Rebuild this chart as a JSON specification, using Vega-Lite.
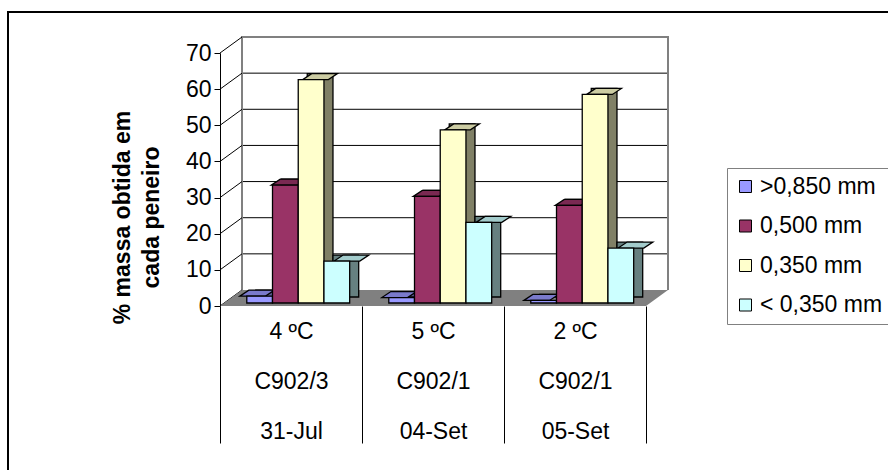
{
  "$schema": "https://vega.github.io/schema/vega-lite/v6.json",
  "width": 426,
  "height": 253,
  "autosize": {"type": "none"},
  "padding": {"left": 220, "top": 53, "right": 242, "bottom": 164},
  "background": "white",
  "config": {
    "view": {"stroke": null},
    "font": "Liberation Sans",
    "point": {"opacity": 1}
  },
  "datasets": {
    "bars": [
      {"cat": "4 ºC|C902/3|31-Jul", "size": ">0,850 mm", "v": 1.9},
      {"cat": "4 ºC|C902/3|31-Jul", "size": "0,500 mm", "v": 32.6},
      {"cat": "4 ºC|C902/3|31-Jul", "size": "0,350 mm", "v": 61.8},
      {"cat": "4 ºC|C902/3|31-Jul", "size": "< 0,350 mm", "v": 11.6},
      {"cat": "5 ºC|C902/1|04-Set", "size": ">0,850 mm", "v": 1.5},
      {"cat": "5 ºC|C902/1|04-Set", "size": "0,500 mm", "v": 29.5},
      {"cat": "5 ºC|C902/1|04-Set", "size": "0,350 mm", "v": 47.9},
      {"cat": "5 ºC|C902/1|04-Set", "size": "< 0,350 mm", "v": 22.3},
      {"cat": "2 ºC|C902/1|05-Set", "size": ">0,850 mm", "v": 0.7},
      {"cat": "2 ºC|C902/1|05-Set", "size": "0,500 mm", "v": 27.0},
      {"cat": "2 ºC|C902/1|05-Set", "size": "0,350 mm", "v": 57.7},
      {"cat": "2 ºC|C902/1|05-Set", "size": "< 0,350 mm", "v": 15.2}
    ],
    "grid": [{"v": 10}, {"v": 20}, {"v": 30}, {"v": 40}, {"v": 50}, {"v": 60}],
    "ticks": [{"v": 0}, {"v": 10}, {"v": 20}, {"v": 30}, {"v": 40}, {"v": 50}, {"v": 60}, {"v": 70}],
    "one": [{"k": 1}]
  },
  "layer": [
    {
      "data": {"name": "bars"},
      "mark": {"type": "bar", "stroke": "black", "strokeWidth": 1.3},
      "encoding": {
        "x": {
          "field": "cat", "type": "nominal",
          "scale": {"domain": ["4 ºC|C902/3|31-Jul", "5 ºC|C902/1|04-Set", "2 ºC|C902/1|05-Set"], "paddingInner": 0, "paddingOuter": 0},
          "axis": {
            "title": null, "labelExpr": "split(datum.label, '|')", "labelAngle": 0,
            "labelFontSize": 23, "labelColor": "black", "labelLineHeight": 50, "labelPadding": -123,
            "tickBand": "extent", "tickSize": 137, "tickColor": "black", "tickWidth": 1,
            "domain": false, "zindex": 1
          }
        },
        "xOffset": {
          "field": "size", "type": "nominal",
          "scale": {"domain": [">0,850 mm", "0,500 mm", "0,350 mm", "< 0,350 mm"], "paddingInner": 0, "paddingOuter": 0.76, "align": 0.685}
        },
        "y": {"field": "v", "type": "quantitative", "scale": {"domain": [0, 70], "nice": false, "zero": true}, "axis": null},
        "fill": {"value": "transparent"},
        "opacity": {"value": 0}
      }
    },
    {
      "data": {"name": "grid"},
      "mark": {"type": "point", "shape": "M-191,-16L235,-16", "size": 4, "filled": false, "stroke": "black", "strokeWidth": 1},
      "encoding": {
        "x": {"datum": "5 ºC|C902/1|04-Set", "type": "nominal"},
        "y": {"field": "v", "type": "quantitative", "scale": {"domain": [0, 70], "nice": false}, "axis": null}
      }
    },
    {
      "data": {"name": "one"},
      "mark": {"type": "point", "shape": "M-191,-16L-191,-269L235,-269L235,-16", "size": 4, "filled": false, "stroke": "#808080", "strokeWidth": 2},
      "encoding": {
        "x": {"datum": "5 ºC|C902/1|04-Set", "type": "nominal"},
        "y": {"datum": 0, "type": "quantitative", "scale": {"domain": [0, 70], "nice": false}, "axis": null}
      }
    },
    {
      "data": {"name": "ticks"},
      "mark": {"type": "point", "shape": "M-213,0L-191,-16", "size": 4, "filled": false, "stroke": "black", "strokeWidth": 1},
      "encoding": {
        "x": {"datum": "5 ºC|C902/1|04-Set", "type": "nominal"},
        "y": {
          "field": "v", "type": "quantitative",
          "scale": {"domain": [0, 70], "nice": false},
          "axis": {
            "values": [0, 10, 20, 30, 40, 50, 60, 70], "grid": false,
            "tickSize": 6, "tickColor": "black", "domainColor": "black", "domainWidth": 1,
            "labelFontSize": 23, "labelColor": "black", "labelPadding": 3,
            "title": ["% massa obtida em", "cada peneiro"],
            "titleFontSize": 23, "titleFontWeight": "bold", "titleColor": "black", "titleLineHeight": 29,
            "titleAngle": -90, "titleX": -98, "titleY": 164, "titleAlign": "center", "titleBaseline": "middle",
            "zindex": 1
          }
        }
      }
    },
    {
      "data": {"name": "one"},
      "mark": {"type": "point", "shape": "M-213,0L213,0L235,-16L-191,-16Z", "size": 4, "filled": true, "fill": "#808080", "strokeWidth": 0},
      "encoding": {
        "x": {"datum": "5 ºC|C902/1|04-Set", "type": "nominal"},
        "y": {"datum": 0, "type": "quantitative", "scale": {"domain": [0, 70], "nice": false}, "axis": null}
      }
    },
    {
      "data": {"name": "bars"},
      "mark": {"type": "bar", "stroke": "black", "strokeWidth": 1.3},
      "encoding": {
        "x": {"field": "cat", "type": "nominal"},
        "xOffset": {
          "field": "size", "type": "nominal",
          "scale": {"domain": [">0,850 mm", "0,500 mm", "0,350 mm", "< 0,350 mm"], "paddingInner": 0, "paddingOuter": 0.76, "align": 0.9156}
        },
        "y": {"field": "v", "type": "quantitative", "scale": {"domain": [0, 70], "nice": false, "range": [244, -9]}, "axis": null},
        "fill": {"field": "size", "type": "nominal", "legend": null,
          "scale": {"domain": [">0,850 mm", "0,500 mm", "0,350 mm", "< 0,350 mm"], "range": ["#5C5C99", "#5C1F3D", "#808066", "#668080"]}}
      }
    },
    {
      "data": {"name": "bars"},
      "mark": {"type": "point", "shape": "M-12.86,0L12.86,0L21.86,-6L-3.86,-6Z", "size": 4, "filled": true, "stroke": "black", "strokeWidth": 1.3, "opacity": 1},
      "encoding": {
        "x": {"field": "cat", "type": "nominal"},
        "xOffset": {"field": "size", "type": "nominal",
          "scale": {"domain": [">0,850 mm", "0,500 mm", "0,350 mm", "< 0,350 mm"], "paddingInner": 0, "paddingOuter": 0.76, "align": 0.685}},
        "y": {"field": "v", "type": "quantitative", "scale": {"domain": [0, 70], "nice": false, "range": [250, -3]}, "axis": null},
        "fill": {"field": "size", "type": "nominal", "legend": null,
          "scale": {"domain": [">0,850 mm", "0,500 mm", "0,350 mm", "< 0,350 mm"], "range": ["#7A7ACC", "#7A2952", "#CCCCA3", "#A3CCCC"]}}
      }
    },
    {
      "data": {"name": "bars"},
      "mark": {"type": "bar", "stroke": "black", "strokeWidth": 1.3},
      "encoding": {
        "x": {"field": "cat", "type": "nominal"},
        "xOffset": {"field": "size", "type": "nominal",
          "scale": {"domain": [">0,850 mm", "0,500 mm", "0,350 mm", "< 0,350 mm"], "paddingInner": 0, "paddingOuter": 0.76, "align": 0.685}},
        "y": {"field": "v", "type": "quantitative", "scale": {"domain": [0, 70], "nice": false, "range": [250, -3]}, "axis": null},
        "fill": {
          "field": "size", "type": "nominal",
          "scale": {"domain": [">0,850 mm", "0,500 mm", "0,350 mm", "< 0,350 mm"], "range": ["#9999FF", "#993366", "#FFFFCC", "#CCFFFF"]},
          "legend": {
            "title": null, "orient": "none", "legendX": 507, "legendY": 115,
            "symbolType": "square", "symbolSize": 144, "symbolStrokeColor": "black", "symbolStrokeWidth": 1,
            "labelFontSize": 23, "labelColor": "black", "labelOffset": 3, "rowPadding": 15.5,
            "padding": 7, "strokeColor": "#808080", "fillColor": "white"
          }
        }
      }
    },
    {
      "data": {"name": "one"},
      "mark": {"type": "point", "shape": "M-425,430L-425,-41L470,-41", "size": 4, "filled": false, "stroke": "black", "strokeWidth": 2},
      "encoding": {
        "x": {"datum": "5 ºC|C902/1|04-Set", "type": "nominal"},
        "y": {"datum": 70, "type": "quantitative", "scale": {"domain": [0, 70], "nice": false}, "axis": null}
      }
    }
  ],
  "resolve": {"scale": {"fill": "independent", "y": "independent", "xOffset": "independent"}}
}
